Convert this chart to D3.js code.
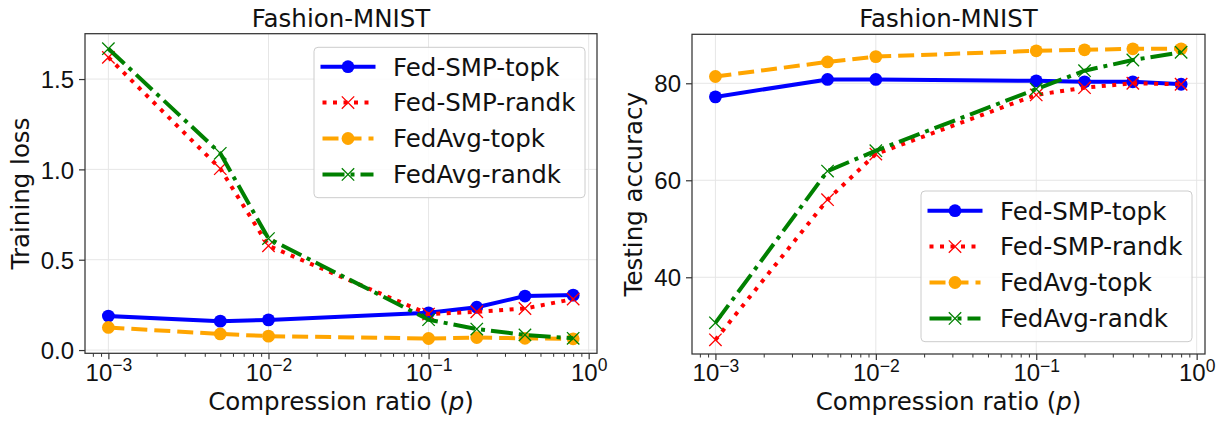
<!DOCTYPE html>
<html>
<head>
<meta charset="utf-8">
<script src="https://cdn.jsdelivr.net/npm/d3@7"></script>
<style>
  body { margin: 0; background: #fff; }
  svg { display: block; font-family: "DejaVu Sans", sans-serif; }
  .grid line { stroke: #e6e6e6; stroke-width: 1; }
  .axis path, .axis line { stroke: #333; }
  .axis text { fill: #111; }
</style>
</head>
<body>
<div id="chart"></div>
<script>
// compression ratios (x values)
var ratios = [0.001, 0.005, 0.01, 0.1, 0.2, 0.4, 0.8]
var seriesNames = ["Fed-SMP-topk", "Fed-SMP-randk", "FedAvg-topk", "FedAvg-randk"]

// training loss
var lossSmpTopk  = [0.188, 0.160, 0.167, 0.206, 0.237, 0.299, 0.304]
var lossSmpRandk = [1.620, 1.004, 0.577, 0.199, 0.212, 0.230, 0.282]
var lossAvgTopk  = [0.125, 0.089, 0.077, 0.064, 0.069, 0.065, 0.062]
var lossAvgRandk = [1.668, 1.089, 0.617, 0.168, 0.116, 0.084, 0.065]

// testing accuracy
var accSmpTopk  = [77.2, 80.8, 80.8, 80.5, 80.3, 80.3, 79.8]
var accSmpRandk = [27.1, 56.0, 65.4, 77.6, 79.1, 80.0, 79.8]
var accAvgTopk  = [81.4, 84.4, 85.5, 86.7, 86.9, 87.1, 87.1]
var accAvgRandk = [30.6, 61.9, 66.1, 78.8, 82.6, 84.8, 86.4]

// tick labels
var xTicks = [1e-3, 1e-2, 1e-1, 1]
var xTickExp = ["\u22123", "\u22122", "\u22121", "0"]
var lossTicks = [0, 0.5, 1.0, 1.5]
var lossTickLabels = ["0.0", "0.5", "1.0", "1.5"]
var accTicks = [40, 60, 80]
var accTickLabels = ["40", "60", "80"]

// line styles per series
var styles = [
  {color: "#0000ff", dash: null,          marker: "o", cap: "square"},
  {color: "#ff0000", dash: "4,6.5",       marker: "x", cap: "butt"},
  {color: "#ffa500", dash: "16,7",        marker: "o", cap: "butt"},
  {color: "#008000", dash: "22,6,4,6",    marker: "x", cap: "butt"}
]

var svg = d3.select("#chart").append("svg")
  .attr("width", 1219).attr("height", 422)

var Chart = function(opts) {
  this.svg = opts.svg
  this.box = opts.box
  this.values = opts.values
  this.yDomain = opts.yDomain
  this.yTicks = opts.yTicks
  this.yTickLabels = opts.yTickLabels
  this.yLabel = opts.yLabel
  this.yLabelX = opts.yLabelX
  this.legend = opts.legend
  this.draw()
}

Chart.prototype.draw = function() {
  var b = this.box
  this.g = this.svg.append("g")
  this.x = d3.scaleLog().domain([Math.pow(10, -3.146), Math.pow(10, 0.052)]).range([b.left, b.right])
  this.y = d3.scaleLinear().domain(this.yDomain).range([b.bottom, b.top])

  this.addGrid()
  this.addAxes()
  this.addLines()
  this.addLegend()
}

//////////
// Grid //
//////////
Chart.prototype.addGrid = function() {
  var self = this, b = this.box
  var grid = this.g.append("g").attr("class", "grid")
  grid.selectAll("line.gx").data(xTicks).enter().append("line")
    .attr("x1", function(d) { return self.x(d) }).attr("x2", function(d) { return self.x(d) })
    .attr("y1", b.top).attr("y2", b.bottom)
  grid.selectAll("line.gy").data(this.yTicks).enter().append("line")
    .attr("y1", function(d) { return self.y(d) }).attr("y2", function(d) { return self.y(d) })
    .attr("x1", b.left).attr("x2", b.right)
}

//////////
// Axes //
//////////
Chart.prototype.addAxes = function() {
  var self = this, b = this.box

  // minor ticks on log axis
  var minor = this.x.ticks().filter(function(d) {
    var e = Math.log10(d); return Math.abs(e - Math.round(e)) > 1e-9
  })
  this.g.append("g").attr("class", "axis")
    .attr("transform", "translate(0," + b.bottom + ")")
    .call(d3.axisBottom(this.x).tickValues(minor).tickSize(3.5).tickFormat(""))
    .call(function(g) { g.select(".domain").remove() })

  var xa = this.g.append("g").attr("class", "axis")
    .attr("transform", "translate(0," + b.bottom + ")")
    .call(d3.axisBottom(this.x).tickValues(xTicks).tickSize(6).tickSizeOuter(0).tickFormat(""))
  xa.select(".domain").remove()
  xa.selectAll(".tick line").attr("stroke-width", 1.2)
  xa.selectAll(".tick text").each(function(d, i) {
    var t = d3.select(this).attr("y", 27.4).attr("dy", 0).attr("font-size", 24)
    t.append("tspan").text("10")
    t.append("tspan").attr("dy", -9.5).attr("font-size", 17.5).text(xTickExp[i])
  })

  var ya = this.g.append("g").attr("class", "axis")
    .attr("transform", "translate(" + b.left + ",0)")
    .call(d3.axisLeft(this.y).tickValues(this.yTicks).tickSize(6).tickPadding(5)
      .tickFormat(function(d, i) { return self.yTickLabels[i] }))
  ya.select(".domain").remove()
  ya.selectAll(".tick line").attr("stroke-width", 1.2)
  ya.selectAll(".tick text").attr("font-size", 24).attr("dy", "0.36em")

  // frame
  this.g.append("rect")
    .attr("x", b.left).attr("y", b.top)
    .attr("width", b.right - b.left).attr("height", b.bottom - b.top)
    .attr("fill", "none").attr("stroke", "#333").attr("stroke-width", 1.25)

  var cx = (b.left + b.right) / 2
  this.g.append("text").attr("x", cx).attr("y", 27.3)
    .attr("text-anchor", "middle").attr("font-size", 24.5).attr("fill", "#111")
    .text("Fashion-MNIST")

  var xl = this.g.append("text").attr("x", cx).attr("y", 410)
    .attr("text-anchor", "middle").attr("font-size", 24.5).attr("fill", "#111")
  xl.append("tspan").text("Compression ratio (")
  xl.append("tspan").attr("font-style", "italic").text("p")
  xl.append("tspan").text(")")

  this.g.append("text")
    .attr("transform", "translate(" + this.yLabelX + "," + ((b.top + b.bottom) / 2) + ") rotate(-90)")
    .attr("text-anchor", "middle").attr("font-size", 24.5).attr("fill", "#111")
    .text(this.yLabel)
}

///////////
// Lines //
///////////
Chart.prototype.addLines = function() {
  var self = this
  var line = d3.line()
    .x(function(d) { return self.x(d[0]) })
    .y(function(d) { return self.y(d[1]) })

  this.values.forEach(function(vals, i) {
    var st = styles[i]
    var pts = ratios.map(function(r, j) { return [r, vals[j]] })
    var s = self.g.append("g")
    s.append("path").attr("d", line(pts))
      .attr("fill", "none").attr("stroke", st.color).attr("stroke-width", 4)
      .attr("stroke-dasharray", st.dash).attr("stroke-linecap", st.cap)
      .attr("stroke-linejoin", "round")
    pts.forEach(function(p) {
      drawMarker(s, st, self.x(p[0]), self.y(p[1]))
    })
  })
}

////////////
// Legend //
////////////
Chart.prototype.addLegend = function() {
  var L = this.legend
  var g = this.g.append("g")
  g.append("rect").attr("x", L.x).attr("y", L.y).attr("width", L.w).attr("height", L.h)
    .attr("rx", 4).attr("fill", "#fff").attr("fill-opacity", 0.85)
    .attr("stroke", "#cccccc").attr("stroke-width", 1)

  seriesNames.forEach(function(name, i) {
    var st = styles[i]
    var cy = L.rowY + i * 35.9
    g.append("line").attr("x1", L.x + 8.5).attr("x2", L.x + 59.5)
      .attr("y1", cy).attr("y2", cy)
      .attr("stroke", st.color).attr("stroke-width", 4)
      .attr("stroke-dasharray", st.dash).attr("stroke-linecap", st.cap)
    drawMarker(g, st, L.x + 34, cy)
    g.append("text").attr("x", L.x + 79).attr("y", cy + 8.8)
      .attr("font-size", 24.5).attr("fill", "#111").text(name)
  })
}

function drawMarker(sel, st, cx, cy) {
  if (st.marker == "o") {
    sel.append("circle").attr("cx", cx).attr("cy", cy).attr("r", 6.4).attr("fill", st.color)
  } else {
    var r = 6.2
    sel.append("path")
      .attr("d", "M" + (cx - r) + "," + (cy - r) + "L" + (cx + r) + "," + (cy + r) +
                 "M" + (cx - r) + "," + (cy + r) + "L" + (cx + r) + "," + (cy - r))
      .attr("stroke", st.color).attr("stroke-width", 1.3).attr("fill", "none")
  }
}

new Chart({
  svg: svg,
  box: {left: 85, right: 597, top: 33.7, bottom: 353.3},
  values: [lossSmpTopk, lossSmpRandk, lossAvgTopk, lossAvgRandk],
  yDomain: [-0.018, 1.751],
  yTicks: lossTicks,
  yTickLabels: lossTickLabels,
  yLabel: "Training loss",
  yLabelX: 29,
  legend: {x: 314, y: 47.3, w: 271, h: 150.4, rowY: 66.7}
})

new Chart({
  svg: svg,
  box: {left: 692, right: 1205, top: 34.3, bottom: 354},
  values: [accSmpTopk, accSmpRandk, accAvgTopk, accAvgRandk],
  yDomain: [24.18, 90.1],
  yTicks: accTicks,
  yTickLabels: accTickLabels,
  yLabel: "Testing accuracy",
  yLabelX: 642,
  legend: {x: 921, y: 191, w: 271, h: 150.7, rowY: 210.7}
})
</script>
</body>
</html>
